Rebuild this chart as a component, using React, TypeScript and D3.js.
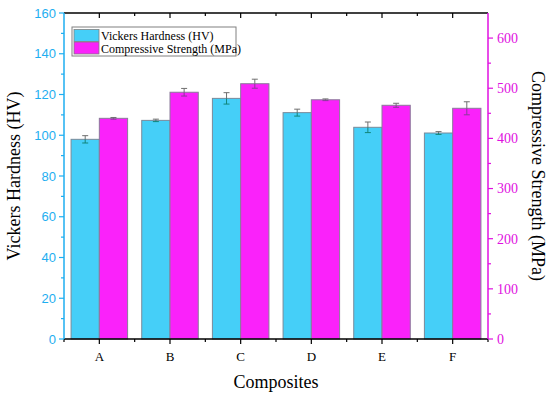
import React from "react";
import * as d3 from "d3";

const categories = ["A", "B", "C", "D", "E", "F"];
const hardness = [98.0, 107.3, 118.1, 111.1, 103.9, 101.1];
const hardnessErr = [1.8, 0.6, 2.8, 1.7, 2.6, 0.7];
const strength = [440, 492, 509, 477, 466, 460];
const strengthErr = [1.7, 7.6, 9, 1.7, 4, 13];
const leftTicks = [0, 20, 40, 60, 80, 100, 120, 140, 160];
const rightTicks = [0, 100, 200, 300, 400, 500, 600];

const W = 550, H = 399;
const L = 64, R = 488, T = 13, B = 339;
const CYAN = "#45CFF8";
const MAG = "#FA22FA";
const AXC = "#1EAEF0";
const AXM = "#E010E0";
const SERIF = { fontFamily: "'Liberation Serif', 'Times New Roman', serif" };
const SANS = { fontFamily: "'Liberation Sans', Arial, sans-serif" };

export default function App() {
  const x = d3.scaleBand<string>().domain(categories).range([L, R]).paddingInner(0.2).paddingOuter(0.1);
  const yL = d3.scaleLinear().domain([0, 160]).range([B, T]);
  const yR = d3.scaleLinear().domain([0, 650]).range([B, T]);
  const bw = x.bandwidth() / 2;
  const step = x.step();
  const leftMinor = d3.range(10, 160, 20);
  const rightMinor = d3.range(50, 650, 100);
  const boundaries = d3.range(0, categories.length + 1).map((i) => L + i * step);

  const errBar = (cx: number, top: number, yHi: number, yLo: number, inner: string, key: string) => (
    <g key={key}>
      <line x1={cx} x2={cx} y1={yHi} y2={Math.min(top, yLo)} stroke="#707070" strokeWidth={1} />
      {yLo > top && <line x1={cx} x2={cx} y1={top} y2={yLo} stroke={inner} strokeWidth={1} />}
      <line x1={cx - 3} x2={cx + 3} y1={yHi} y2={yHi} stroke="#707070" strokeWidth={1} />
      <line x1={cx - 3} x2={cx + 3} y1={yLo} y2={yLo} stroke={yLo > top ? inner : "#707070"} strokeWidth={1} />
    </g>
  );

  return (
    <svg width={W} height={H} style={{ position: "absolute", left: 0, top: 0 }}>
      <rect width={W} height={H} fill="white" />
      {categories.map((c, i) => {
        const x0 = x(c)!;
        const yh = yL(hardness[i]);
        const ys = yR(strength[i]);
        return (
          <g key={c}>
            <rect x={x0} y={yh} width={bw} height={B - yh} fill={CYAN} stroke="#7a8a9a" strokeWidth={1} />
            <rect x={x0 + bw} y={ys} width={bw} height={B - ys} fill={MAG} stroke="#8a7a9a" strokeWidth={1} />
            {errBar(x0 + bw / 2, yh, yL(hardness[i] + hardnessErr[i]), yL(hardness[i] - hardnessErr[i]), "#12857a", "eh" + c)}
            {errBar(x0 + bw * 1.5, ys, yR(strength[i] + strengthErr[i]), yR(strength[i] - strengthErr[i]), "#8a3a9a", "es" + c)}
          </g>
        );
      })}
      <line x1={L} x2={R} y1={T} y2={T} stroke="black" strokeWidth={1.5} />
      {categories.map((c) => (
        <line key={"tt" + c} x1={x(c)! + bw} x2={x(c)! + bw} y1={T} y2={T + 5} stroke="black" strokeWidth={1.2} />
      ))}
      {boundaries.slice(1, -1).map((b, i) => (
        <line key={"tm" + i} x1={b} x2={b} y1={T} y2={T + 3} stroke="black" strokeWidth={1.2} />
      ))}
      <line x1={L} x2={R} y1={B} y2={B} stroke="black" strokeWidth={1.5} />
      {categories.map((c) => (
        <g key={"bt" + c}>
          <line x1={x(c)! + bw} x2={x(c)! + bw} y1={B} y2={B + 5} stroke="black" strokeWidth={1.2} />
          <text x={x(c)! + bw} y={B + 22} textAnchor="middle" fontSize={13} fill="black" style={SERIF}>{c}</text>
        </g>
      ))}
      {boundaries.map((b, i) => (
        <line key={"bm" + i} x1={b} x2={b} y1={B} y2={B + 3} stroke="black" strokeWidth={1.2} />
      ))}
      <line x1={L} x2={L} y1={T} y2={B} stroke={AXC} strokeWidth={1.5} />
      {leftTicks.map((t) => (
        <g key={"lt" + t}>
          <line x1={L - 5} x2={L} y1={yL(t)} y2={yL(t)} stroke={AXC} strokeWidth={1.2} />
          <text x={L - 8} y={yL(t)} dy="0.35em" textAnchor="end" fontSize={13} fill={AXC} style={SANS}>{t}</text>
        </g>
      ))}
      {leftMinor.map((t) => (
        <line key={"lm" + t} x1={L - 3} x2={L} y1={yL(t)} y2={yL(t)} stroke={AXC} strokeWidth={1.2} />
      ))}
      <line x1={R} x2={R} y1={T} y2={B} stroke={AXM} strokeWidth={1.5} />
      {rightTicks.map((t) => (
        <g key={"rt" + t}>
          <line x1={R} x2={R + 5} y1={yR(t)} y2={yR(t)} stroke={AXM} strokeWidth={1.2} />
          <text x={R + 9} y={yR(t)} dy="0.35em" textAnchor="start" fontSize={14} fill={AXM} style={SERIF}>{t}</text>
        </g>
      ))}
      {rightMinor.map((t) => (
        <line key={"rm" + t} x1={R} x2={R + 3} y1={yR(t)} y2={yR(t)} stroke={AXM} strokeWidth={1.2} />
      ))}
      <text transform={`translate(20,${(T + B) / 2}) rotate(-90)`} textAnchor="middle" fontSize={18} fill="black" style={SERIF}>Vickers Hardness (HV)</text>
      <text transform={`translate(532,${(T + B) / 2}) rotate(90)`} textAnchor="middle" fontSize={18} fill="black" style={SERIF}>Compressive Strength (MPa)</text>
      <text x={(L + R) / 2} y={388} textAnchor="middle" fontSize={18} fill="black" style={SERIF}>Composites</text>
      <rect x={72} y={27} width={164} height={29} fill="white" stroke="#808080" strokeWidth={1} />
      <rect x={74} y={29.5} width={25} height={12} fill={CYAN} stroke="#808080" strokeWidth={0.8} />
      <rect x={74} y={42} width={25} height={12} fill={MAG} stroke="#808080" strokeWidth={0.8} />
      <text x={101} y={36} dy="0.35em" fontSize={12} fill="black" style={SERIF}>Vickers Hardness (HV)</text>
      <text x={101} y={48.5} dy="0.35em" fontSize={12} fill="black" style={SERIF}>Compressive Strength (MPa)</text>
    </svg>
  );
}
